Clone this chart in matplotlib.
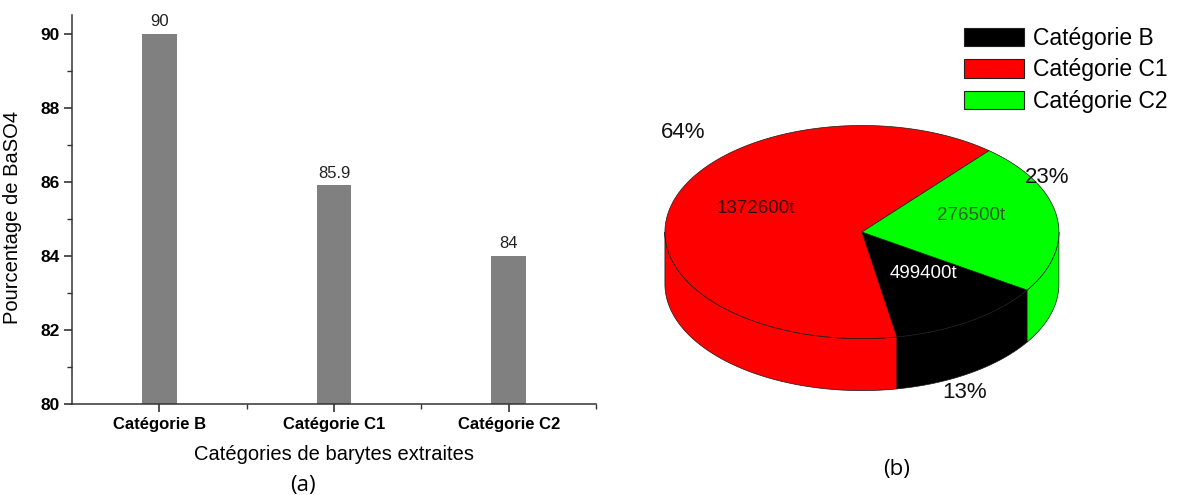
import numpy as np
import matplotlib
matplotlib.use("Agg")
import matplotlib.pyplot as plt
from matplotlib.patches import Polygon, Patch
from matplotlib.ticker import MultipleLocator, FixedLocator

# donnees (a) : teneur en BaSO4 par categorie
categories = ['Catégorie B', 'Catégorie C1', 'Catégorie C2']
baso4 = [90, 85.9, 84]
baso4_labels = ['90', '85.9', '84']

# donnees (b) : repartition des reserves
pourcentages = [13, 64, 23]
tonnages = ['499400t', '1372600t', '276500t']
couleurs_pie = ['#000000', '#ff0000', '#00ff00']
couleurs_txt = ['white', '#3a0000', '#2d5e2d']

plt.rcParams['font.family'] = ['Liberation Sans', 'DejaVu Sans']

fig = plt.figure(figsize=(11.84, 4.95), dpi=100)

# ---------- (a) diagramme en barres ----------
ax = fig.add_axes([72/1184, 1-404/495, 524/1184, 389/495])
x = np.arange(len(categories))
ax.bar(x, baso4, width=0.2, color='#808080', zorder=2)
for xi, v, lab in zip(x, baso4, baso4_labels):
    ax.text(xi, v + 0.12, lab, ha='center', va='bottom', fontsize=12, color='#222222')

ax.set_xlim(-0.5, 2.5)
ax.set_ylim(80, 90.5)
ax.set_xticks(x)
ax.set_xticklabels(categories, fontsize=12, fontweight='bold')
ax.xaxis.set_minor_locator(FixedLocator([0.5, 1.5, 2.5]))
ax.yaxis.set_major_locator(MultipleLocator(2))
ax.yaxis.set_minor_locator(MultipleLocator(1))
ax.tick_params(axis='y', which='major', labelsize=12.5)
for lab in ax.get_yticklabels():
    lab.set_fontweight('bold')
ax.tick_params(axis='both', which='major', length=6, width=1.2, color='#333333', pad=3)
ax.tick_params(axis='both', which='minor', length=3.5, width=1, color='#333333')
for s in ['top', 'right']:
    ax.spines[s].set_visible(False)
for s in ['left', 'bottom']:
    ax.spines[s].set_color('#333333')
    ax.spines[s].set_linewidth(1.1)
ax.set_ylabel('Pourcentage de BaSO4', fontsize=14.5)
ax.yaxis.set_label_coords(-0.095, 0.48)
ax.set_xlabel('Catégories de barytes extraites', fontsize=14.5, labelpad=10)
fig.text(303/1184, 1-485/495, '(a)', ha='center', va='center', fontsize=16, family='Open Sans')

# ---------- (b) camembert 3D ----------
axp = fig.add_axes([620/1184, 0, 564/1184, 1])
axp.set_xlim(-1.228, 1.635)
axp.set_ylim(-1.335, 1.178)
axp.set_aspect('equal', adjustable='datalim')
axp.axis('off')

b = 0.541      # demi petit axe de l'ellipse
h = 0.264      # epaisseur
start = -33.0  # sens horaire

fr = np.array(pourcentages) / sum(pourcentages) * 360
bornes = start - np.concatenate([[0], np.cumsum(fr)])

def arc(t1, t2, dy=0.0):
    t = np.radians(np.linspace(t1, t2, 120))
    return np.column_stack([np.cos(t), b*np.sin(t) + dy])

edge = dict(edgecolor='#1a1a1a', linewidth=0.5)

# faces laterales (partie avant)
for i in range(len(pourcentages)):
    lo, hi = bornes[i+1], bornes[i]
    for k in (-2, -1, 0, 1):
        a1 = max(lo, 180 + 360*k)
        a2 = min(hi, 360 + 360*k)
        if a2 > a1:
            haut = arc(a1, a2)
            bas = arc(a2, a1, -h)
            axp.add_patch(Polygon(np.vstack([haut, bas]), closed=True,
                                  facecolor=couleurs_pie[i], zorder=1, **edge))

# faces superieures
for i in range(len(pourcentages)):
    lo, hi = bornes[i+1], bornes[i]
    pts = np.vstack([[0, 0], arc(lo, hi)])
    axp.add_patch(Polygon(pts, closed=True, facecolor=couleurs_pie[i], zorder=2, **edge))
    mid = np.radians((lo + hi) / 2)
    axp.text(0.56*np.cos(mid), 0.56*b*np.sin(mid) + 0.04, tonnages[i],
             ha='center', va='center', fontsize=13.5, color=couleurs_txt[i], zorder=3)

# etiquettes de pourcentage
pos_pct = [(0.523, -0.817), (-0.909, 0.503), (0.94, 0.279)]
for (px, py), p in zip(pos_pct, pourcentages):
    axp.text(px, py, f'{p}%', ha='center', va='center', fontsize=16, color='#111111', zorder=3)

handles = [Patch(facecolor=c, edgecolor='#222222', linewidth=0.8) for c in couleurs_pie]
fig.legend(handles, categories, loc='upper left', bbox_to_anchor=(955/1184, 1-18/495),
           frameon=False, fontsize=16.5, handlelength=2.6, handleheight=0.85,
           labelspacing=0.36, handletextpad=0.4, borderaxespad=0)

fig.text(897/1184, 1-470/495, '(b)', ha='center', va='center', fontsize=16, family='Open Sans')

fig.savefig('out.png', dpi=100, facecolor='white')
